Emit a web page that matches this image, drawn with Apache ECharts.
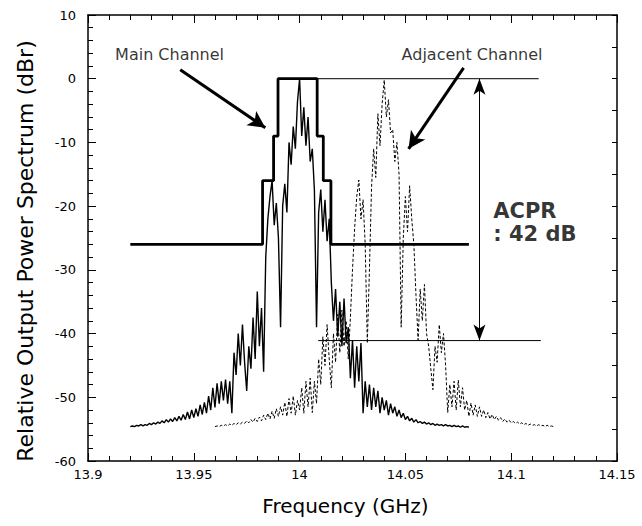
<!DOCTYPE html>
<html><head><meta charset="utf-8">
<script src="https://cdn.jsdelivr.net/npm/echarts@6/dist/echarts.min.js"></script>
<style>html,body{margin:0;padding:0;background:#fff}#c{width:642px;height:526px}</style>
</head><body><div id="c"></div>
<script>
// ---------- data ----------
const xTickLabels = ['13.9', '13.95', '14', '14.05', '14.1', '14.15'];
const yTickLabels = ['-60', '-50', '-40', '-30', '-20', '-10', '0', '10'];

const sampleStep = 0.001;          // GHz between read samples
const mainStart = 13.92;           // first main-channel sample (GHz)
const adjStart = 13.96;            // first adjacent-channel sample (GHz)

const mainValues = [
 -54.6,-54.5,-54.6,-54.4,-54.5,-54.3,-54.5,-54.3,-54.4,-54.1,
 -54.3,-54.0,-54.2,-53.9,-54.1,-53.7,-54.0,-53.5,-53.9,-53.4,
 -53.8,-53.2,-53.7,-53.0,-53.6,-52.7,-53.5,-52.3,-53.4,-52.0,
 -53.2,-51.8,-53.0,-51.2,-52.7,-50.8,-52.5,-49.8,-52.0,-48.5,
 -51.6,-47.8,-51.0,-47.5,-50.5,-47.2,-51.0,-47.5,-52.5,-43.0,
 -46.5,-40.0,-45.0,-38.6,-44.5,-49.0,-42.0,-45.5,-37.5,-44.0,
 -33.4,-42.0,-36.0,-46.0,-28.0,-22.0,-18.5,-16.0,-23.0,-19.5,
 -25.0,-39.0,-20.0,-16.5,-21.0,-10.0,-13.5,-7.5,-11.0,-3.6,
 0.0,-9.0,-4.5,-10.5,-6.0,-13.0,-11.0,-17.5,-39.0,-21.0,
 -17.4,-24.0,-19.0,-25.5,-22.0,-32.0,-38.0,-33.0,-40.5,-35.0,
 -42.0,-34.5,-41.5,-39.0,-47.0,-41.0,-48.5,-42.0,-47.5,-41.5,
 -52.5,-47.5,-51.5,-48.0,-52.0,-48.5,-51.5,-49.0,-52.5,-50.0,
 -52.0,-50.5,-52.8,-51.0,-52.5,-51.5,-53.0,-52.0,-53.2,-52.5,
 -53.5,-53.0,-53.7,-53.3,-53.9,-53.5,-54.0,-53.8,-54.1,-53.9,
 -54.2,-54.0,-54.3,-54.1,-54.4,-54.2,-54.4,-54.3,-54.5,-54.3,
 -54.5,-54.4,-54.6,-54.4,-54.6,-54.5,-54.7,-54.5,-54.7,-54.6,
 -54.7
];

const adjValues = [
 -54.6,-54.5,-54.6,-54.4,-54.5,-54.3,-54.5,-54.2,-54.4,-54.1,
 -54.3,-54.0,-54.2,-53.9,-54.1,-53.7,-54.0,-53.5,-53.9,-53.3,
 -53.8,-53.1,-53.7,-52.8,-53.5,-52.5,-53.4,-52.2,-53.3,-51.8,
 -53.0,-51.5,-52.8,-50.8,-53.0,-50.2,-52.5,-49.8,-52.8,-50.5,
 -52.0,-48.5,-52.5,-47.5,-51.5,-47.0,-52.4,-47.5,-51.0,-44.0,
 -48.0,-40.5,-45.0,-38.6,-44.0,-48.5,-40.0,-44.5,-37.0,-43.0,
 -36.3,-42.0,-38.0,-44.0,-37.5,-30.0,-23.5,-18.5,-15.9,-22.0,
 -19.0,-26.0,-41.5,-30.0,-17.0,-11.0,-15.5,-5.5,-10.5,-4.0,
 -0.2,-6.0,-3.3,-8.5,-8.0,-13.0,-10.0,-15.0,-39.0,-25.0,
 -18.5,-24.0,-16.8,-22.0,-26.0,-34.0,-41.0,-33.0,-38.0,-32.3,
 -40.0,-42.0,-45.5,-48.8,-42.0,-44.5,-38.6,-43.0,-40.0,-45.0,
 -52.4,-48.0,-51.5,-47.5,-52.0,-47.3,-51.5,-48.5,-52.0,-50.5,
 -53.0,-50.9,-52.8,-51.2,-53.0,-51.5,-53.0,-52.0,-53.2,-52.4,
 -53.4,-52.7,-53.5,-53.0,-53.6,-53.2,-53.8,-53.4,-53.9,-53.6,
 -54.0,-53.8,-54.1,-53.9,-54.2,-54.0,-54.3,-54.1,-54.4,-54.2,
 -54.4,-54.3,-54.5,-54.3,-54.5,-54.4,-54.6,-54.4,-54.6,-54.5,
 -54.6
];

// spectrum emission mask (thick step outline)
const maskFreq  = [13.92, 13.9825, 13.9825, 13.9877, 13.9877, 13.9898, 13.9898,
                   14.0083, 14.0083, 14.0112, 14.0112, 14.0148, 14.0148, 14.08];
const maskLevel = [-26, -26, -16, -16, -9, -9, 0, 0, -9, -9, -16, -16, -26, -26];

// reference lines for ACPR
const topRefFreq = [14.0083, 14.113];
const topRefLevel = 0;
const lowRefFreq = [14.0088, 14.114];
const lowRefLevel = -41.1;
const acprArrowFreq = 14.085;

// annotation texts and arrows
const labelTexts = ['Main Channel', 'Adjacent Channel', 'ACPR\n: 42 dB'];
const labelAnchors = [[13.9128, 3.8], [14.0482, 3.8], [14.0915, -22.6]];
const mainArrow = [[13.9436, 1.4], [13.9838, -7.7]];
const adjArrow = [[14.0775, 1.7], [14.0515, -11.0]];
const xTitle = 'Frequency (GHz)';
const yTitle = 'Relative Output Power Spectrum (dBr)';

// ---------- chart ----------
const FONT = 'DejaVu Sans';
const chart = echarts.init(document.getElementById('c'), null, { renderer: 'svg' });

const mainData = mainValues.map((v, i) => [mainStart + i * sampleStep, v]);
const adjData = adjValues.map((v, i) => [adjStart + i * sampleStep, v]);
const maskData = maskFreq.map((f, i) => [f, maskLevel[i]]);

const xBase = {
  type: 'value', min: 13.9, max: 14.15, interval: 0.05,
  axisLine: { show: true, onZero: false, lineStyle: { color: '#000', width: 1.5 } },
  axisTick: { show: true, inside: true, length: 8, lineStyle: { color: '#000', width: 1 } },
  minorTick: { show: true, splitNumber: 5, length: 5, lineStyle: { color: '#000', width: 1 } },
  splitLine: { show: false }, minorSplitLine: { show: false }
};

chart.setOption({
  animation: false,
  backgroundColor: '#fff',
  textStyle: { fontFamily: FONT },
  grid: { left: 88, right: 25, top: 15, bottom: 65, containLabel: false },
  graphic: [{
    type: 'text', x: 25, y: 251, rotation: Math.PI / 2, silent: true,
    style: { text: yTitle, fontFamily: FONT, fontSize: 22, fill: '#000',
             textAlign: 'center', textVerticalAlign: 'middle' }
  }],
  xAxis: [
    Object.assign({}, xBase, {
      position: 'bottom',
      name: xTitle, nameLocation: 'middle', nameGap: 35,
      nameTextStyle: { fontFamily: FONT, fontSize: 20, color: '#000', padding: [0, 14, 0, 0] },
      axisLabel: { show: true, margin: 7, fontFamily: FONT, fontSize: 13, color: '#000',
        formatter: v => xTickLabels[Math.round((v - 13.9) / 0.05)] }
    }),
    Object.assign({}, xBase, { position: 'top', axisLabel: { show: false } })
  ],
  yAxis: [
    {
      type: 'value', min: -60, max: 10, interval: 10, position: 'left',
      axisLine: { show: true, onZero: false, lineStyle: { color: '#000', width: 1.5 } },
      axisTick: { show: true, inside: true, length: 8, lineStyle: { color: '#000', width: 1 } },
      minorTick: { show: true, splitNumber: 5, length: 5, lineStyle: { color: '#000', width: 1 } },
      splitLine: { show: false },
      axisLabel: { show: true, margin: 12, fontFamily: FONT, fontSize: 13, color: '#000',
        formatter: v => yTickLabels[Math.round((v + 60) / 10)] }
    },
    {
      type: 'value', min: -60, max: 10, interval: 5, position: 'right',
      axisLine: { show: true, onZero: false, lineStyle: { color: '#000', width: 1.5 } },
      axisTick: { show: true, inside: true, length: 5, lineStyle: { color: '#000', width: 1 } },
      splitLine: { show: false }, axisLabel: { show: false }
    }
  ],
  series: [
    { type: 'line', name: 'Main', data: mainData, showSymbol: false, symbol: 'none',
      lineStyle: { color: '#000', width: 1.4 }, z: 3 },
    { type: 'line', name: 'Adjacent', data: adjData, showSymbol: false, symbol: 'none',
      lineStyle: { color: '#000', width: 1, type: [3, 2] }, z: 3 },
    { type: 'line', name: 'Mask', data: maskData, showSymbol: false, symbol: 'none',
      lineStyle: { color: '#000', width: 2.8 }, z: 4 },
    { type: 'line', name: 'RefTop', data: topRefFreq.map(f => [f, topRefLevel]), showSymbol: false,
      symbol: 'none', lineStyle: { color: '#000', width: 1 }, z: 4 },
    { type: 'line', name: 'RefLow', data: lowRefFreq.map(f => [f, lowRefLevel]), showSymbol: false,
      symbol: 'none', lineStyle: { color: '#000', width: 1 }, z: 4 },
    {
      type: 'scatter', name: 'Annotations', symbolSize: 0, z: 5,
      data: labelTexts.map((t, i) => ({
        value: labelAnchors[i],
        label: {
          show: true, formatter: t, position: [0, 0], align: 'left', verticalAlign: 'middle',
          fontFamily: FONT, color: '#000',
          fontSize: i < 2 ? 16 : 21,
          fontWeight: i < 2 ? 'normal' : 'bold',
          lineHeight: i < 2 ? 18 : 23
        }
      })),
      markLine: {
        silent: true, animation: false,
        label: { show: false },
        data: [
          [ { coord: mainArrow[0], symbol: 'none' },
            { coord: mainArrow[1], symbol: 'arrow', symbolSize: [13, 17] } ],
          [ { coord: adjArrow[0], symbol: 'none' },
            { coord: adjArrow[1], symbol: 'arrow', symbolSize: [13, 17] } ],
          [ { coord: [acprArrowFreq, topRefLevel], symbol: 'arrow', symbolSize: [9, 16],
              lineStyle: { width: 1 } },
            { coord: [acprArrowFreq, lowRefLevel], symbol: 'arrow', symbolSize: [9, 16] } ]
        ],
        lineStyle: { color: '#000', width: 3, type: 'solid' }
      }
    }
  ]
});
</script>
</body></html>
